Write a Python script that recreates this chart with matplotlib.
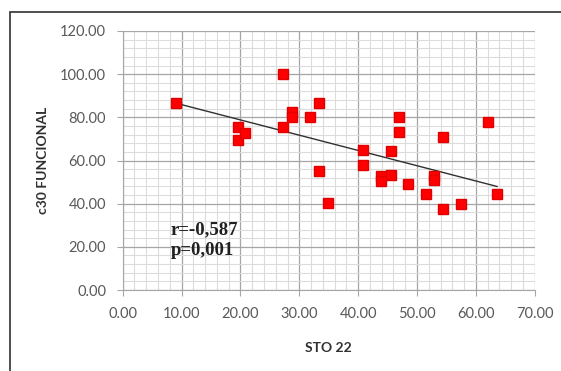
import numpy as np
import matplotlib.pyplot as plt
from matplotlib.patches import Rectangle
from matplotlib.ticker import MultipleLocator, FormatStrFormatter

sto22 = [9.0, 19.6, 19.6, 20.7, 27.2, 27.2, 28.8, 28.8, 31.8, 33.3,
         33.4, 34.8, 40.9, 40.9, 43.9, 43.9, 45.5, 45.5, 47.0, 47.0,
         48.4, 51.5, 52.9, 52.9, 54.5, 54.5, 57.5, 62.0, 63.6]
c30 = [86.8, 75.7, 69.5, 72.6, 99.9, 75.7, 82.3, 80.3, 80.0, 86.8,
       55.3, 40.2, 64.9, 57.8, 53.0, 50.7, 53.4, 64.6, 80.0, 73.2,
       49.0, 44.3, 53.0, 51.0, 71.0, 37.5, 40.0, 77.7, 44.3]
stats_text = "r=-0,587\np=0,001"

fig = plt.figure(figsize=(5.61, 3.71), dpi=100)
fig.patches.append(Rectangle((9.5 / 561, -0.05), 1.2, 1 - 12 / 371 + 0.05,
                             transform=fig.transFigure, fill=False,
                             edgecolor='#303030', linewidth=1.2))

ax = fig.add_axes([122.7 / 561, 81 / 371, 412 / 561, 259 / 371])
ax.set_xlim(0, 70)
ax.set_ylim(0, 120)

ax.xaxis.set_major_locator(MultipleLocator(10))
ax.xaxis.set_minor_locator(MultipleLocator(2))
ax.yaxis.set_major_locator(MultipleLocator(20))
ax.yaxis.set_minor_locator(MultipleLocator(4))
ax.xaxis.set_major_formatter(FormatStrFormatter('%.2f'))
ax.yaxis.set_major_formatter(FormatStrFormatter('%.2f'))

ax.grid(which='major', color='#a6a6a6', linewidth=0.9)
ax.grid(which='minor', color='#dcdcdc', linewidth=0.8)
ax.set_axisbelow(True)

for side in ['top', 'right']:
    ax.spines[side].set_visible(False)
for side in ['left', 'bottom']:
    ax.spines[side].set_color('#a6a6a6')

ax.tick_params(which='major', length=4, color='#a6a6a6', labelcolor='#595959',
               labelsize=10.5, pad=8)
ax.tick_params(which='minor', length=0)
for lbl in ax.get_xticklabels() + ax.get_yticklabels():
    lbl.set_family('Lato')

# linear trend line
slope, intercept = np.polyfit(sto22, c30, 1)
xs = np.array([min(sto22), max(sto22)])
ax.plot(xs, slope * xs + intercept, color='#303030', linewidth=1.0, zorder=2)

ax.plot(sto22, c30, linestyle='none', marker='s', markersize=7.5,
        markerfacecolor='#ff0000', markeredgecolor='#e00000', zorder=3)

ax.text(8.2, 32, stats_text, family='Liberation Serif', fontweight='bold',
        fontsize=13.5, va='top', ha='left', linespacing=1.35, color='#202020')

ax.set_xlabel('STO 22', family='Lato', fontweight='bold', fontsize=10,
              color='#303030', labelpad=15)
ax.set_ylabel('c30 FUNCIONAL', family='Lato', fontweight='bold', fontsize=10,
              color='#303030', labelpad=8)

fig.savefig('out.png', dpi=100)
